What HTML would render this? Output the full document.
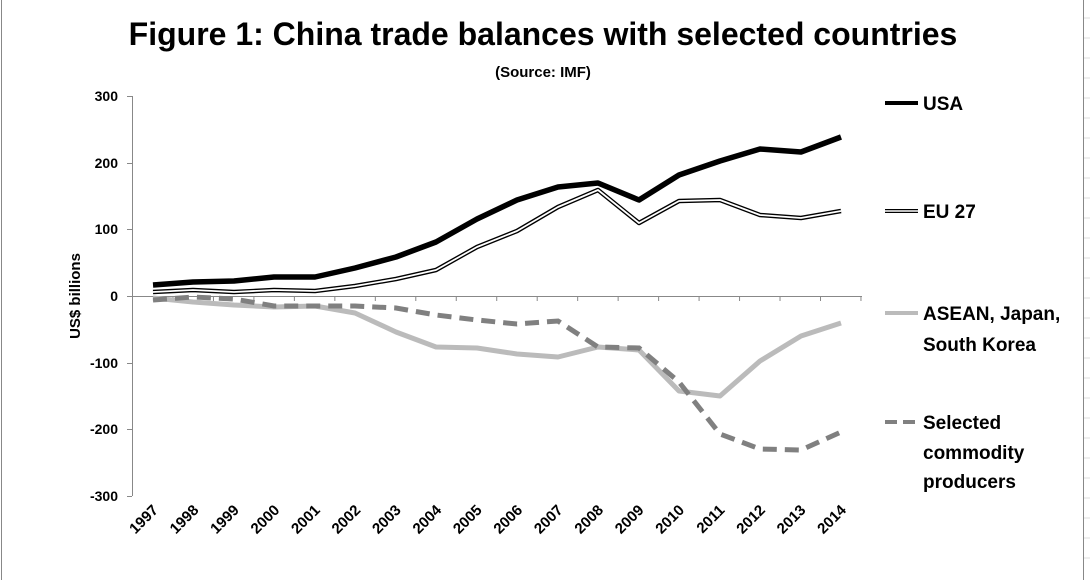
<!DOCTYPE html>
<html><head><style>
body{margin:0;background:#fff;}
svg{display:block;font-family:"Liberation Sans",sans-serif;font-weight:bold;}
</style></head><body>
<svg width="1090" height="580" xmlns="http://www.w3.org/2000/svg">
<line x1="1.5" y1="0" x2="1.5" y2="580" stroke="#888" stroke-width="1"/>
<line x1="1083.5" y1="0" x2="1083.5" y2="580" stroke="#888" stroke-width="1"/>
<g stroke="#ddd" stroke-width="1">
<line x1="1084" y1="18" x2="1090" y2="18"/><line x1="1084" y1="38" x2="1090" y2="38"/><line x1="1084" y1="58" x2="1090" y2="58"/><line x1="1084" y1="78" x2="1090" y2="78"/><line x1="1084" y1="98" x2="1090" y2="98"/><line x1="1084" y1="118" x2="1090" y2="118"/><line x1="1084" y1="138" x2="1090" y2="138"/><line x1="1084" y1="158" x2="1090" y2="158"/><line x1="1084" y1="178" x2="1090" y2="178"/><line x1="1084" y1="198" x2="1090" y2="198"/><line x1="1084" y1="218" x2="1090" y2="218"/><line x1="1084" y1="238" x2="1090" y2="238"/><line x1="1084" y1="258" x2="1090" y2="258"/><line x1="1084" y1="278" x2="1090" y2="278"/><line x1="1084" y1="298" x2="1090" y2="298"/><line x1="1084" y1="318" x2="1090" y2="318"/><line x1="1084" y1="338" x2="1090" y2="338"/><line x1="1084" y1="358" x2="1090" y2="358"/><line x1="1084" y1="378" x2="1090" y2="378"/><line x1="1084" y1="398" x2="1090" y2="398"/><line x1="1084" y1="418" x2="1090" y2="418"/><line x1="1084" y1="438" x2="1090" y2="438"/><line x1="1084" y1="458" x2="1090" y2="458"/><line x1="1084" y1="478" x2="1090" y2="478"/><line x1="1084" y1="498" x2="1090" y2="498"/><line x1="1084" y1="518" x2="1090" y2="518"/><line x1="1084" y1="538" x2="1090" y2="538"/><line x1="1084" y1="558" x2="1090" y2="558"/>
</g>
<text x="543" y="45" font-size="32" text-anchor="middle">Figure 1: China trade balances with selected countries</text>
<text x="543" y="77" font-size="15" text-anchor="middle">(Source: IMF)</text>
<g stroke="#888" stroke-width="1">
<line x1="132.5" y1="96" x2="132.5" y2="496"/>
<line x1="132" y1="296.5" x2="862" y2="296.5"/>
<line x1="127" y1="96.5" x2="132" y2="96.5"/><line x1="127" y1="163.5" x2="132" y2="163.5"/><line x1="127" y1="229.5" x2="132" y2="229.5"/><line x1="127" y1="296.5" x2="132" y2="296.5"/><line x1="127" y1="363.5" x2="132" y2="363.5"/><line x1="127" y1="429.5" x2="132" y2="429.5"/><line x1="127" y1="496.5" x2="132" y2="496.5"/>
</g>
<g stroke="#888" stroke-width="1" id="xt"></g>
<g font-size="14" text-anchor="end">
<text x="118" y="101">300</text><text x="118" y="168">200</text><text x="118" y="234">100</text><text x="118" y="301">0</text><text x="118" y="368">-100</text><text x="118" y="434">-200</text><text x="118" y="501">-300</text>
</g>
<text transform="translate(80,296) rotate(-90)" font-size="15" text-anchor="middle">US$ billions</text>
<g id="xl" font-size="15"></g>
<polyline fill="none" stroke="#bbb" stroke-width="5" stroke-linejoin="round" points="153,298 193,302 234,305 274,307 315,306 355,313 396,332 436,347 477,348 517,354 558,357 598,347 639,350 679,391 720,396 760,361 801,336 841,323"/>
<polyline fill="none" stroke="#808080" stroke-width="5" stroke-dasharray="14,8" points="153,300 193,297 234,299 274,306 315,306 355,306 396,308 436,315 477,320 517,324 558,321 598,347 639,348 679,382 720,434 760,449 801,450 841,432"/>
<polyline fill="none" stroke="#000" stroke-width="4.5" stroke-linejoin="round" points="153,292 193,290 234,292 274,290 315,291 355,286 396,279 436,270 477,247 517,231 558,207 598,190 639,223 679,201 720,200 760,215 801,218 841,211"/>
<polyline fill="none" stroke="#fff" stroke-width="1.8" stroke-linejoin="round" points="153,292 193,290 234,292 274,290 315,291 355,286 396,279 436,270 477,247 517,231 558,207 598,190 639,223 679,201 720,200 760,215 801,218 841,211"/>
<polyline fill="none" stroke="#000" stroke-width="5.5" stroke-linejoin="round" points="153,285 193,282 234,281 274,277 315,277 355,268 396,257 436,242 477,219 517,200 558,187 598,183 639,200 679,175 720,161 760,149 801,152 841,137"/>
<line x1="885" y1="103" x2="918" y2="103" stroke="#000" stroke-width="4"/>
<line x1="885" y1="211" x2="918" y2="211" stroke="#000" stroke-width="4"/>
<line x1="885" y1="211" x2="918" y2="211" stroke="#fff" stroke-width="1.5"/>
<line x1="885" y1="313" x2="918" y2="313" stroke="#bbb" stroke-width="4"/>
<line x1="885" y1="422" x2="918" y2="422" stroke="#808080" stroke-width="4" stroke-dasharray="12,6"/>
<g font-size="19">
<text x="923" y="110">USA</text>
<text x="923" y="218">EU 27</text>
<text x="923" y="320">ASEAN, Japan,</text>
<text x="923" y="351">South Korea</text>
<text x="923" y="429">Selected</text>
<text x="923" y="459">commodity</text>
<text x="923" y="488">producers</text>
</g>
<script>
var g=document.getElementById('xt'),l=document.getElementById('xl'),ns='http://www.w3.org/2000/svg';
for(var k=0;k<=18;k++){var x=132.5+40.47*k;var t=document.createElementNS(ns,'line');t.setAttribute('x1',x);t.setAttribute('x2',x);t.setAttribute('y1',296);t.setAttribute('y2',301);g.appendChild(t);}
for(var k=0;k<18;k++){var x=159+40.47*k,y=511;var t=document.createElementNS(ns,'text');t.setAttribute('transform','translate('+x+','+y+') rotate(-45)');t.setAttribute('text-anchor','end');t.textContent=1997+k;l.appendChild(t);}
</script>
</svg>
</body></html>
